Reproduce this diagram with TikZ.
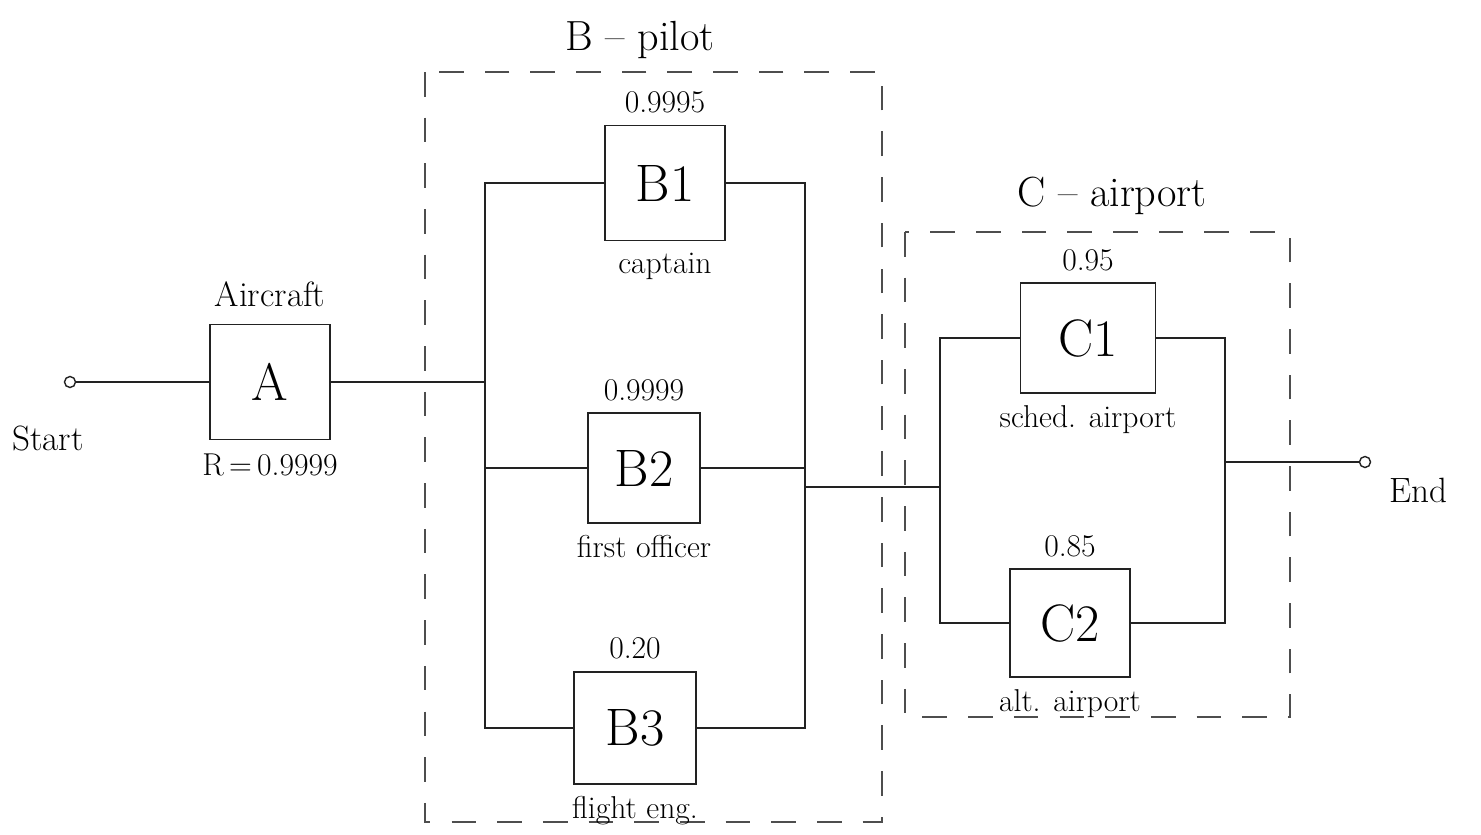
\documentclass[tikz,border=0pt]{standalone}
\usetikzlibrary{positioning}
\definecolor{ink}{HTML}{222222}
\tikzset{blk/.style={draw=ink,line width=1.1pt,minimum width=2.4cm,minimum height=2.3cm,inner sep=0pt,font=\fontsize{30}{34}\selectfont},
  wire/.style={draw=ink,line width=.8pt},
  grp/.style={draw=ink!80,line width=.7pt,dash pattern=on 14pt off 12pt},
  term/.style={circle,draw=ink,line width=.8pt,minimum size=2.2mm,inner sep=0pt},
  rel/.style={font=\fontsize{18}{21}\selectfont},
  tag/.style={font=\fontsize{20}{24}\selectfont},
  ttl/.style={font=\fontsize{24}{28}\selectfont}}
\begin{document}
\begin{tikzpicture}[x=0.02cm,y=-0.02cm]
\useasboundingbox (0,0) rectangle (1481,835);
% subsystem frames
\draw[grp] (425,72) rectangle (882,822);
\draw[grp] (905,232) rectangle (1290,717);
\node[ttl] (tB) at (640,40) {B -- pilot};
\node[ttl] (tC) at (1112,196) {C -- airport};

% terminals
\node[term] (start) at (70,382) {};
\node[tag] (lStart) at (48,438) {Start};
\node[term] (end) at (1365,462) {};
\node[tag] (lEnd) at (1418,490) {End};

% blocks
\node[blk] (A) at (270,382) {A};
\node[tag,above=6pt of A] (lA) {Aircraft};
\node[rel,below=4pt of A] (rA) {R\,=\,0.9999};

\node[blk] (B1) at (665,183) {B1};
\node[blk,minimum width=2.25cm,minimum height=2.2cm] (B2) at (644,468) {B2};
\node[blk,minimum width=2.45cm,minimum height=2.25cm] (B3) at (635,728) {B3};
\node[blk,minimum width=2.7cm,minimum height=2.2cm] (C1) at (1088,338) {C1};
\node[blk,minimum height=2.15cm] (C2) at (1070,623) {C2};

\foreach \b/\r/\w in {B1/0.9995/captain,B2/0.9999/first officer,B3/0.20/flight eng.,
  C1/0.95/sched. airport,C2/0.85/alt. airport}{
  \node[rel,above=3pt of \b] (r\b) {\r};
  \node[rel,below=3pt of \b] (w\b) {\w};}

% wiring
\coordinate (bIn) at (485,382);
\coordinate (bOut) at (805,487);
\coordinate (cIn) at (940,487);
\coordinate (cOut) at (1225,462);
\draw[wire] (start) -- (A);
\draw[wire] (A.east) -- (bIn);
\draw[wire] (B1.west) -| (bIn) |- (B3.west);
\draw[wire] (B2.west) -- (B2.west -| bIn);
\draw[wire] (B1.east) -| (bOut) |- (B3.east);
\draw[wire] (B2.east) -- (B2.east -| bOut);
\draw[wire] (bOut) -- (cIn);
\draw[wire] (C1.west) -| (cIn) |- (C2.west);
\draw[wire] (C1.east) -| (cOut) |- (C2.east);
\draw[wire] (cOut) -- (end);
\end{tikzpicture}
\end{document}
